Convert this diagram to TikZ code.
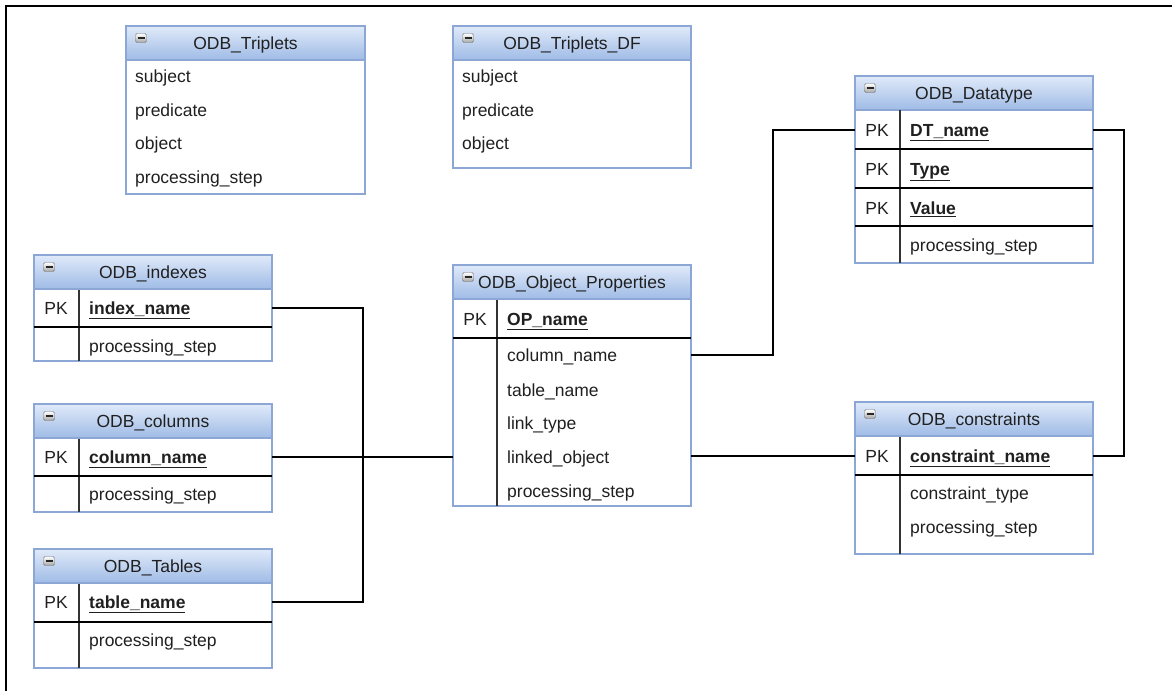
\documentclass[tikz,border=0pt]{standalone}
\usepackage{fontspec}
\setmainfont{Liberation Sans}
\usetikzlibrary{calc}

\definecolor{txt}{HTML}{202020}
\definecolor{tblborder}{HTML}{8CA6D6}
\definecolor{hdrtop}{HTML}{E0EAF9}
\definecolor{hdrbot}{HTML}{9FBBE6}
\definecolor{divcol}{HTML}{333333}

\tikzset{
  tbl/.style={anchor=north west, inner sep=0pt, outer sep=0pt, fill=white},
  border/.style={draw=tblborder, line width=1.2pt},
  hdr/.style={top color=hdrtop, bottom color=hdrbot},
  fld/.style={anchor=west, inner sep=0pt, text=txt, font=\fontsize{17.5}{20}\selectfont,
              text height=15pt, text depth=2pt},
  pk/.style={fld, anchor=center},
  title/.style={fld, anchor=center},
  rowline/.style={draw=black, line width=1.1pt},
  divider/.style={draw=divcol, line width=1.2pt},
  link/.style={draw=black, line width=1.4pt},
  frame/.style={draw=black, line width=2.2pt},
  minusbox/.style={draw=black!55, rounded corners=1.5pt, minimum width=11pt, minimum height=9pt,
                   inner sep=0pt, top color=white, bottom color=black!35,
                   path picture={\draw[line width=1.7pt, black!85]
                     ([xshift=-3.5pt]path picture bounding box.center) --
                     ([xshift=3.5pt]path picture bounding box.center);}},
}

% #1 name, #2 x, #3 y, #4 width, #5 height, #6 title
\newcommand\dbtable[6]{%
  \node[tbl, minimum width=#4pt, minimum height=#5pt] (#1) at (#2,#3) {};
  \shade[hdr] (#1.north west) rectangle ([yshift=-34pt]#1.north east);
  \draw[border] ([yshift=-34pt]#1.north west) -- ([yshift=-34pt]#1.north east);
  \draw[border] (#1.north west) rectangle (#1.south east);
  \node[title] (#1-t) at ([yshift=-17pt]#1.north) {#6};
  \node[minusbox] (#1-m) at ([shift={(15pt,-12pt)}]#1.north west) {};
}
\newcommand\keyfld[1]{\underline{\textbf{#1}}}

\begin{document}
\begin{tikzpicture}[x=1pt,y=-1pt]
\useasboundingbox (0,0) rectangle (1172,691);

% page frame
\draw[frame] (6,691) -- (6,6) -- (1172,6);

% ---- ODB_Triplets
\dbtable{trip}{126}{26}{239}{168}{ODB\_Triplets}
\node[fld] (trip-f1) at (135,76) {subject};
\node[fld] (trip-f2) at (135,110) {predicate};
\node[fld] (trip-f3) at (135,143) {object};
\node[fld] (trip-f4) at (135,177) {processing\_step};

% ---- ODB_Triplets_DF
\dbtable{tdf}{453}{26}{238}{142}{ODB\_Triplets\_DF}
\node[fld] (tdf-f1) at (462,76) {subject};
\node[fld] (tdf-f2) at (462,110) {predicate};
\node[fld] (tdf-f3) at (462,143) {object};

% ---- ODB_Datatype
\dbtable{dt}{855}{76}{238}{187}{ODB\_Datatype}
\draw[divider] (900,110) -- (900,263);
\draw[rowline] (855,149) -- (1093,149);
\draw[rowline] (855,188) -- (1093,188);
\draw[rowline] (855,226) -- (1093,226);
\node[pk] (dt-p1) at (877,130) {PK};
\node[pk] (dt-p2) at (877,169) {PK};
\node[pk] (dt-p3) at (877,208) {PK};
\node[fld] (dt-k1) at (910,130) {\keyfld{DT\_name}};
\node[fld] (dt-k2) at (910,169) {\keyfld{Type}};
\node[fld] (dt-k3) at (910,208) {\keyfld{Value}};
\node[fld] (dt-f1) at (910,245) {processing\_step};

% ---- ODB_indexes
\dbtable{idx}{34}{255}{238}{106}{ODB\_indexes}
\draw[divider] (79,290) -- (79,361);
\draw[rowline] (34,327) -- (272,327);
\node[pk] (idx-p) at (56,308) {PK};
\node[fld] (idx-k) at (89,308) {\keyfld{index\_name}};
\node[fld] (idx-f1) at (89,346) {processing\_step};

% ---- ODB_columns
\dbtable{col}{34}{404}{238}{108}{ODB\_columns}
\draw[divider] (79,439) -- (79,512);
\draw[rowline] (34,476) -- (272,476);
\node[pk] (col-p) at (56,457) {PK};
\node[fld] (col-k) at (89,457) {\keyfld{column\_name}};
\node[fld] (col-f1) at (89,494) {processing\_step};

% ---- ODB_Tables
\dbtable{tab}{34}{549}{238}{119}{ODB\_Tables}
\draw[divider] (79,584) -- (79,668);
\draw[rowline] (34,622) -- (272,622);
\node[pk] (tab-p) at (56,602) {PK};
\node[fld] (tab-k) at (89,602) {\keyfld{table\_name}};
\node[fld] (tab-f1) at (89,640) {processing\_step};

% ---- ODB_Object_Properties
\dbtable{op}{453}{265}{238}{241}{ODB\_Object\_Properties}
\draw[divider] (497,300) -- (497,506);
\draw[rowline] (453,338) -- (691,338);
\node[pk] (op-p) at (475,319) {PK};
\node[fld] (op-k) at (507,319) {\keyfld{OP\_name}};
\node[fld] (op-f1) at (507,355) {column\_name};
\node[fld] (op-f2) at (507,390) {table\_name};
\node[fld] (op-f3) at (507,423) {link\_type};
\node[fld] (op-f4) at (507,457) {linked\_object};
\node[fld] (op-f5) at (507,491) {processing\_step};

% ---- ODB_constraints
\dbtable{con}{855}{402}{238}{152}{ODB\_constraints}
\draw[divider] (900,437) -- (900,554);
\draw[rowline] (855,475) -- (1093,475);
\node[pk] (con-p) at (877,456) {PK};
\node[fld] (con-k) at (910,456) {\keyfld{constraint\_name}};
\node[fld] (con-f1) at (910,493) {constraint\_type};
\node[fld] (con-f2) at (910,527) {processing\_step};

% ---- relationships (joints of the orthogonal connectors)
\coordinate (lbus) at (363,457);
\coordinate (mbus) at (773,240);
\coordinate (rbus) at (1124,300);

\draw[link] (idx.east |- idx-p) -| (lbus) |- (tab.east |- tab-p);
\draw[link] (col.east |- col-p) -- (op.west |- col-p);
\draw[link] (op.east |- op-f1) -| (mbus) |- (dt.west |- dt-p1);
\draw[link] (op.east |- con-p) -- (con.west |- con-p);
\draw[link] (dt.east |- dt-p1) -| (rbus) |- (con.east |- con-p);
\end{tikzpicture}
\end{document}
